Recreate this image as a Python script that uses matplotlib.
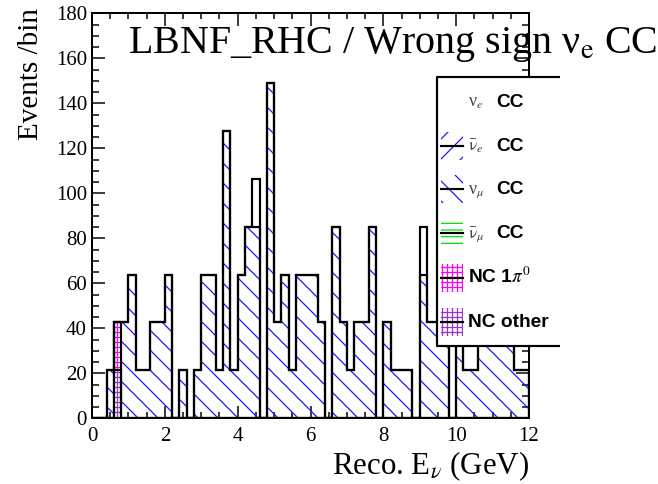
import numpy as np
import matplotlib
matplotlib.use("Agg")
import matplotlib.pyplot as plt
from matplotlib.patches import Rectangle

DPI = 120
plt.rcParams['font.family'] = ['Liberation Serif', 'DejaVu Serif']
plt.rcParams['mathtext.fontset'] = 'stix'
plt.rcParams['hatch.linewidth'] = 0.75

# ---------------- data (entries per 0.2 GeV bin, each entry weighted) ----------------
weight = 21.3
bin_edges = np.round(np.arange(0.0, 12.0001, 0.2), 2)
numu_cc = [0, 0, 1, 0, 2, 3, 1, 1, 2, 2,
           3, 0, 1, 0, 1, 3, 3, 1, 6, 1,
           3, 4, 4, 0, 7, 2, 3, 1, 3, 3,
           3, 2, 0, 4, 2, 1, 2, 2, 4, 0,
           2, 1, 1, 1, 0, 3, 2, 2, 2, 0,
           3, 1, 1, 3, 3, 3, 2, 3, 1, 1]
numubar_cc = [0] * 60
nuebar_cc = [0] * 60
nue_cc = [0] * 22 + [1] + [0] * 22 + [1] + [0] * 14
nc_1pi0 = [0, 0, 0, 1] + [0] * 56
nc_other = [0, 0, 0, 1] + [0] * 56

legend_labels = ['ν$_{e}$', r'$\bar{\mathrm{ν}}$$_{e}$', 'ν$_{\mu}$', r'$\bar{\mathrm{ν}}$$_{\mu}$',
                 'NC 1$\\pi^{0}$', 'NC other']
title = 'LBNF_RHC / Wrong sign ν$_{\\mathrm{e}}$ CC'
xlabel = 'Reco. E$_{ν}$ (GeV)'
ylabel = 'Events /bin'

# ---------------- figure ----------------
W, H = 658, 484
fig = plt.figure(figsize=(W / DPI, H / DPI), dpi=DPI)
x0, x1, ytop, ybot = 92, 529, 13.3, 418.3
ax = fig.add_axes([x0 / W, (H - ybot) / H, (x1 - x0) / W, (ybot - ytop) / H])
ax.set_xlim(0, 12)
ax.set_ylim(0, 180)

# stacked components, bottom to top
stack = [
    (nc_other, '#9933cc', '++++'),
    (nc_1pi0, '#ff00ff', '++++'),
    (numu_cc, '#1a1aff', '\\\\'),
    (numubar_cc, '#1a1aff', '//'),
    (nuebar_cc, '#1a1aff', '//'),
    (nue_cc, 'white', None),
]
lower = np.zeros(len(bin_edges) - 1)
cums = []
for vals, col, hatch in stack:
    v = np.asarray(vals, dtype=float) * weight
    upper = lower + v
    if v.sum() > 0:
        ax.stairs(upper, bin_edges, baseline=lower, fill=True, facecolor='none',
                  edgecolor=col, hatch=hatch, linewidth=0, zorder=2)
        cums.append(upper.copy())
    lower = upper
for c in cums:
    ax.stairs(c, bin_edges, baseline=0, fill=False, color='black', linewidth=1.3, zorder=3)

# axes styling (ROOT-like)
for s in ax.spines.values():
    s.set_linewidth(1.2)
    s.set_zorder(5)
ax.set_xticks(np.arange(0, 12.01, 2))
ax.set_xticks(np.arange(0, 12.01, 0.5), minor=True)
ax.set_yticks(np.arange(0, 181, 20))
ax.set_yticks(np.arange(0, 181, 5), minor=True)
ax.tick_params(which='both', direction='in', top=True, right=True, width=0.9, labelsize=12.5)
ax.tick_params(which='major', axis='x', length=7.5)
ax.tick_params(which='minor', axis='x', length=3.8)
ax.tick_params(which='major', axis='y', length=8)
ax.tick_params(which='minor', axis='y', length=4)
ax.tick_params(axis='x', pad=5)
ax.tick_params(axis='y', pad=3)

# overlay in pixel coordinates
ov = fig.add_axes([0, 0, 1, 1], zorder=10)
ov.set_xlim(0, W)
ov.set_ylim(H, 0)
ov.axis('off')
ov.patch.set_alpha(0)

ov.text(128, 53, title, fontsize=24, ha='left', va='baseline')
ov.text(529, 474, xlabel, fontsize=18.5, ha='right', va='baseline')
ov.text(44, 8, ylabel, fontsize=17.5, ha='right', va='top', rotation=90)

# legend box
lx0, lx1, ly0, ly1 = 437, 560, 77, 346
ov.add_patch(Rectangle((lx0, ly0), lx1 - lx0, ly1 - ly0, facecolor='white', edgecolor='none', zorder=1))
ov.plot([lx1, lx0, lx0, lx1], [ly0, ly0, ly1, ly1], color='black', lw=1.3, zorder=3, solid_capstyle='butt')

rows_y = [102, 146, 189, 233, 278, 322]
sym = [(None, None), ('#1a1aff', '//'), ('#1a1aff', '\\\\'), ('#00dd00', '---'),
       ('#ff00ff', '++++'), ('#9933cc', '++++')]
for i, (lab, yy) in enumerate(zip(legend_labels, rows_y)):
    col, hatch = sym[i]
    if col is not None:
        ov.add_patch(Rectangle((441, yy - 14), 22, 28, facecolor='none', edgecolor=col,
                               hatch=hatch, linewidth=0, zorder=2))
        ov.plot([441, 463], [yy, yy], color='black', lw=1.3, zorder=3)
    if i < 4:
        ov.text(468, yy + 5, lab, fontsize=10.5, ha='left', va='baseline', color='#444444', zorder=4)
        ov.text(496, yy + 5, 'CC', fontsize=11.5, fontweight='bold', family='Liberation Sans',
                ha='left', va='baseline', zorder=4)
    else:
        ov.text(468, yy + 5, lab, fontsize=11.5, fontweight='bold', family='Liberation Sans',
                ha='left', va='baseline', zorder=4)

fig.savefig('out.png', dpi=DPI)
